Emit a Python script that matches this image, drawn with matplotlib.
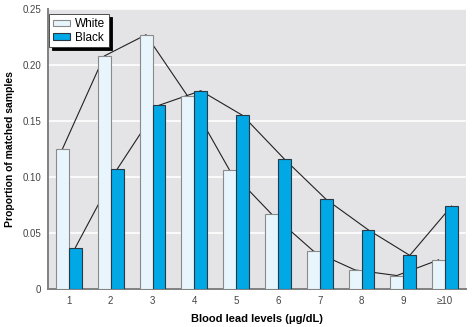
import matplotlib.pyplot as plt
import numpy as np

levels = ['1', '2', '3', '4', '5', '6', '7', '8', '9', '\u226510']
white = [0.125, 0.208, 0.227, 0.172, 0.106, 0.067, 0.034, 0.017, 0.012, 0.026]
black = [0.037, 0.107, 0.164, 0.177, 0.155, 0.116, 0.080, 0.053, 0.030, 0.074]

plt.rcParams['font.family'] = ['Liberation Sans', 'DejaVu Sans']

fig = plt.figure(figsize=(4.72, 3.27), dpi=100)
ax = fig.add_axes([48/472, 38/327, 418/472, 280/327])
ax.set_facecolor('#e4e4e6')

x = np.arange(1, len(levels) + 1)
w = 0.31

# trend lines sit behind the bars
ax.plot(x - w/2, white, color='#222222', lw=0.8, zorder=2)
ax.plot(x + w/2, black, color='#222222', lw=0.8, zorder=2)

ax.bar(x - w/2, white, width=w, color='#e8f5fc', edgecolor='#8a8a8a', lw=0.8, label='White', zorder=3)
ax.bar(x + w/2, black, width=w, color='#00a8e6', edgecolor='#2a3a44', lw=0.8, label='Black', zorder=3)

ax.set_xlim(0.5, 10.5)
ax.set_ylim(0, 0.25)
ax.set_yticks([0, 0.05, 0.10, 0.15, 0.20, 0.25])
ax.set_yticklabels(['0', '0.05', '0.10', '0.15', '0.20', '0.25'])
ax.set_xticks(x)
ax.set_xticklabels(levels)
ax.yaxis.grid(True, color='white', lw=1.2)
ax.set_axisbelow(True)
ax.tick_params(labelsize=7, colors='#444444', length=0, pad=5)
ax.tick_params(axis='y', pad=5)

for s in ['top', 'right']:
    ax.spines[s].set_visible(False)
for s in ['left', 'bottom']:
    ax.spines[s].set_color('#808080')
    ax.spines[s].set_linewidth(1.4)

ax.set_xlabel('Blood lead levels (\u03bcg/dL)', fontsize=8, fontweight='bold', labelpad=6)
ax.set_ylabel('Proportion of matched samples', fontsize=7.5, fontweight='bold', labelpad=5)

leg = ax.legend(loc='upper left', bbox_to_anchor=(0.0, 0.985), fontsize=8.5, frameon=True,
                fancybox=False, shadow={'color': 'black', 'alpha': 1}, handlelength=1.5,
                handleheight=0.45, borderpad=0.3, labelspacing=0.15, handletextpad=0.4,
                borderaxespad=0.1)
leg.get_frame().set_edgecolor('#333333')
leg.get_frame().set_linewidth(0.6)

fig.savefig('out.png', dpi=100)
